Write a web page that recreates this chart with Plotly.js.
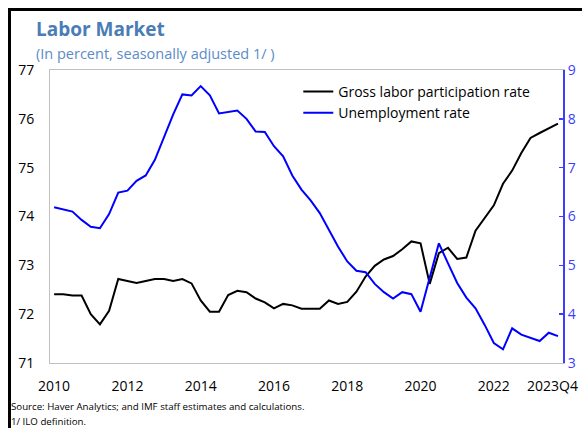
<!DOCTYPE html>
<html>
<head>
<meta charset="utf-8">
<script src="https://cdn.plot.ly/plotly-3.0.1.min.js"></script>
<style>
  html, body { margin:0; padding:0; background:#fff; }
  #wrap { position:relative; width:582px; height:428px; overflow:hidden; }
  #chart { position:absolute; left:0; top:0; width:582px; height:428px; }
  #frame { position:absolute; left:8px; top:8px; width:600px; height:440px;
           border-left:3px solid #000; border-top:3px solid #000; pointer-events:none; }
</style>
</head>
<body>
<div id="wrap">
  <div id="chart"></div>
  <div id="frame"></div>
</div>
<script>
// Quarterly observations, 2010Q1 .. 2023Q4
const quarters = [];
for (let y = 2010; y <= 2023; y++) for (let q = 1; q <= 4; q++) quarters.push(y + "Q" + q);

const participation = [
  72.41, 72.41, 72.38, 72.38, 72.00, 71.79, 72.07, 72.72,
  72.68, 72.64, 72.68, 72.72, 72.72, 72.68, 72.72, 72.63,
  72.28, 72.05, 72.05, 72.39, 72.48, 72.45, 72.32, 72.24,
  72.12, 72.21, 72.18, 72.11, 72.11, 72.11, 72.28, 72.21,
  72.25, 72.46, 72.77, 72.99, 73.12, 73.19, 73.33, 73.49,
  73.45, 72.62, 73.25, 73.36, 73.13, 73.16, 73.71, 73.97,
  74.23, 74.67, 74.94, 75.30, 75.61, 75.71, 75.81, 75.90
];
const unemployment = [
  6.19, 6.14, 6.10, 5.93, 5.79, 5.76, 6.05, 6.49,
  6.53, 6.73, 6.84, 7.16, 7.64, 8.09, 8.50, 8.48,
  8.67, 8.48, 8.11, 8.14, 8.17, 8.00, 7.74, 7.73,
  7.44, 7.23, 6.84, 6.55, 6.33, 6.07, 5.73, 5.38,
  5.08, 4.89, 4.86, 4.62, 4.45, 4.32, 4.45, 4.41,
  4.05, 4.75, 5.45, 5.04, 4.64, 4.34, 4.12, 3.78,
  3.41, 3.28, 3.71, 3.58, 3.52, 3.45, 3.62, 3.55
];
const tickLabels = ["2010", "2012", "2014", "2016", "2018", "2020", "2022", "2023Q4"];
const tickIdx = [0, 8, 16, 24, 32, 40, 48, 54.4];

const xIdx = quarters.map((_, i) => i);
const FONT = '"Open Sans", "Noto Sans", sans-serif';
const BLUE_AX = '#3d3dff';

const traces = [
  { x: xIdx, y: participation, type: 'scatter', mode: 'lines',
    name: 'Gross labor participation rate', text: quarters,
    line: { color: '#000000', width: 2 }, yaxis: 'y' },
  { x: xIdx, y: unemployment, type: 'scatter', mode: 'lines',
    name: 'Unemployment rate', text: quarters,
    line: { color: '#0000ff', width: 2 }, yaxis: 'y2' }
];

const layout = {
  width: 582, height: 428,
  margin: { l: 50, r: 19, t: 70, b: 65 },
  paper_bgcolor: '#ffffff', plot_bgcolor: '#ffffff',
  font: { family: FONT, size: 14, color: '#000' },
  showlegend: true,
  legend: { x: 0.484, y: 0.98, xanchor: 'left', yanchor: 'top',
            bgcolor: 'rgba(0,0,0,0)', font: { size: 14, family: FONT, color: '#000' },
            itemwidth: 30, tracegroupgap: 0 },
  xaxis: { range: [-0.45, 55.55], tickvals: tickIdx, ticktext: tickLabels,
           showgrid: false, zeroline: false, showline: true, linecolor: '#c0c0c0',
           linewidth: 1, mirror: true, ticks: '', ticklabelstandoff: 10,
           tickfont: { size: 14, color: '#000', family: FONT } },
  yaxis: { range: [71, 77], dtick: 1, showgrid: false, zeroline: false,
           showline: true, linecolor: '#c0c0c0', linewidth: 1, ticks: '',
           ticklabelstandoff: 12, tickfont: { size: 14, color: '#000', family: FONT } },
  yaxis2: { range: [3, 9], dtick: 1, overlaying: 'y', side: 'right',
            showgrid: false, zeroline: false, showline: true, linecolor: BLUE_AX,
            linewidth: 2, ticks: 'inside', ticklen: 4, tickcolor: BLUE_AX, tickwidth: 1.5,
            tickfont: { size: 14, color: BLUE_AX, family: FONT } },
  annotations: [
    { text: '<b>Labor Market</b>', xref: 'paper', yref: 'paper', x: -0.032, y: 1.14,
      xanchor: 'left', yanchor: 'middle', showarrow: false,
      font: { size: 19, color: '#4a7db5', family: FONT } },
    { text: '(In percent, seasonally adjusted 1/ )', xref: 'paper', yref: 'paper',
      x: -0.032, y: 1.056, xanchor: 'left', yanchor: 'middle', showarrow: false,
      font: { size: 14.5, color: '#5b8cc8', family: FONT } },
    { text: 'Source: Haver Analytics; and IMF staff estimates and calculations.',
      xref: 'paper', yref: 'paper', x: -0.08, y: -0.15, xanchor: 'left', yanchor: 'middle',
      showarrow: false, font: { size: 9.7, color: '#000', family: FONT } },
    { text: '1/ ILO definition.',
      xref: 'paper', yref: 'paper', x: -0.08, y: -0.198, xanchor: 'left', yanchor: 'middle',
      showarrow: false, font: { size: 9.7, color: '#000', family: FONT } }
  ]
};

Plotly.newPlot('chart', traces, layout, { displayModeBar: false, staticPlot: true });
</script>
</body>
</html>
